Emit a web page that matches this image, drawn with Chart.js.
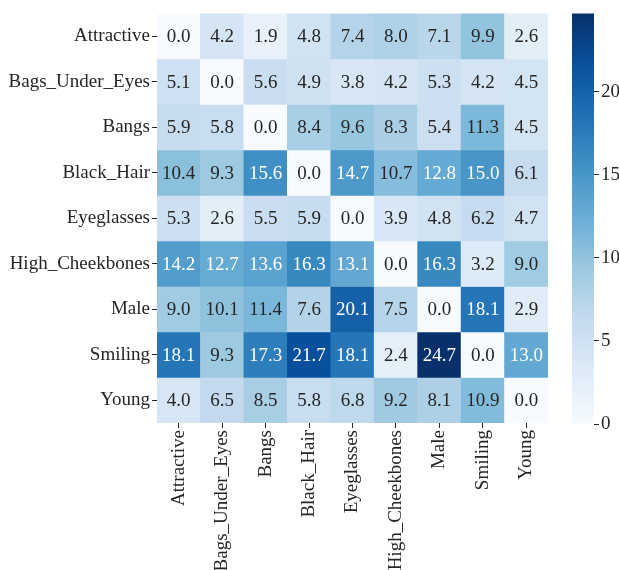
<!DOCTYPE html>
<html><head><meta charset="utf-8">
<script src="https://cdn.jsdelivr.net/npm/chart.js@4.4.0/dist/chart.umd.min.js"></script>
<style>body{margin:0;background:#fff}#wrap{position:relative;width:619px;height:570px}canvas{position:absolute;left:0;top:0}</style>
</head><body><div id="wrap"><canvas id="hm" width="619" height="570"></canvas><canvas id="cb" width="619" height="570"></canvas></div>
<script>
const rowLabels = ['Attractive','Bags_Under_Eyes','Bangs','Black_Hair','Eyeglasses','High_Cheekbones','Male','Smiling','Young'];
const colLabels = ['Attractive','Bags_Under_Eyes','Bangs','Black_Hair','Eyeglasses','High_Cheekbones','Male','Smiling','Young'];
const attractive     = [0.0, 4.2, 1.9, 4.8, 7.4, 8.0, 7.1, 9.9, 2.6];
const bagsUnderEyes  = [5.1, 0.0, 5.6, 4.9, 3.8, 4.2, 5.3, 4.2, 4.5];
const bangs          = [5.9, 5.8, 0.0, 8.4, 9.6, 8.3, 5.4, 11.3, 4.5];
const blackHair      = [10.4, 9.3, 15.6, 0.0, 14.7, 10.7, 12.8, 15.0, 6.1];
const eyeglasses     = [5.3, 2.6, 5.5, 5.9, 0.0, 3.9, 4.8, 6.2, 4.7];
const highCheekbones = [14.2, 12.7, 13.6, 16.3, 13.1, 0.0, 16.3, 3.2, 9.0];
const male           = [9.0, 10.1, 11.4, 7.6, 20.1, 7.5, 0.0, 18.1, 2.9];
const smiling        = [18.1, 9.3, 17.3, 21.7, 18.1, 2.4, 24.7, 0.0, 13.0];
const young          = [4.0, 6.5, 8.5, 5.8, 6.8, 9.2, 8.1, 10.9, 0.0];
const rows = [attractive, bagsUnderEyes, bangs, blackHair, eyeglasses, highCheekbones, male, smiling, young];
const colorbarTicks = [0, 5, 10, 15, 20];
const vmin = 0, vmax = 24.7;

const FONT = {family: '"Liberation Serif", "Times New Roman", serif', size: 19};
const TXT = '#262626';
const blues = ['#f7fbff','#deebf7','#c6dbef','#9ecae1','#6baed6','#4292c6','#2171b5','#08519c','#08306b'];
function hex(h){return [1,3,5].map(i=>parseInt(h.substr(i,2),16));}
function cmap(v){
  let t = Math.max(0, Math.min(1, (v - vmin) / (vmax - vmin))) * (blues.length - 1);
  const i = Math.min(Math.floor(t), blues.length - 2), f = t - i;
  const a = hex(blues[i]), b = hex(blues[i+1]);
  return a.map((c,k)=>Math.round(c + (b[k]-c)*f));
}
function rgbStr(c){return 'rgb('+c.join(',')+')';}
function textColor(v){
  const c = cmap(v).map(x=>{x/=255;return x<=0.03928?x/12.92:Math.pow((x+0.055)/1.055,2.4);});
  const lum = 0.2126*c[0]+0.7152*c[1]+0.0722*c[2];
  return lum > 0.408 ? TXT : '#ffffff';
}

const datasets = rows.map((r, i) => ({
  label: rowLabels[i],
  data: r.map(() => 1),
  values: r,
  backgroundColor: r.map(v => rgbStr(cmap(v))),
  borderWidth: 0,
  barPercentage: 1,
  categoryPercentage: 1
}));

const annot = {
  id: 'annot',
  afterDatasetsDraw(chart) {
    const ctx = chart.ctx;
    ctx.save();
    ctx.font = FONT.size + 'px ' + FONT.family;
    ctx.textAlign = 'center';
    ctx.textBaseline = 'middle';
    chart.data.datasets.forEach((ds, di) => {
      chart.getDatasetMeta(di).data.forEach((el, j) => {
        const v = ds.values[j];
        ctx.fillStyle = textColor(v);
        ctx.fillText(v.toFixed(1), el.x, (el.y + el.base) / 2 + 1);
      });
    });
    ctx.restore();
  }
};

const tickGrid = {display: true, drawOnChartArea: false, drawTicks: true, tickLength: 5, offset: false, color: TXT, lineWidth: 1};

new Chart(document.getElementById('hm'), {
  type: 'bar',
  data: {labels: colLabels, datasets},
  options: {
    responsive: false, animation: false, devicePixelRatio: 1, events: [],
    layout: {padding: {left: 0, right: 71, top: 12, bottom: 0}},
    plugins: {legend: {display: false}, tooltip: {enabled: false}},
    scales: {
      x: {type: 'category', offset: true, stacked: true, grid: tickGrid, border: {display: false},
          ticks: {font: FONT, color: TXT, minRotation: 90, maxRotation: 90, autoSkip: false, padding: 2},
          afterFit(s){ s.height = 147; }},
      y: {type: 'linear', stacked: true, min: 0, max: 9, reverse: true, display: false},
      yl: {type: 'category', labels: rowLabels, position: 'left', offset: true, grid: tickGrid, border: {display: false},
           ticks: {font: FONT, color: TXT, autoSkip: false, padding: 2},
           afterFit(s){ s.width = 157; }}
    }
  },
  plugins: [annot]
});

new Chart(document.getElementById('cb'), {
  type: 'bar',
  data: {labels: [''], datasets: [{
    data: [[vmin, vmax]], borderWidth: 0, barPercentage: 1, categoryPercentage: 1,
    backgroundColor(context) {
      const ca = context.chart.chartArea;
      if (!ca) return blues[4];
      const g = context.chart.ctx.createLinearGradient(0, ca.bottom, 0, ca.top);
      blues.forEach((c, i) => g.addColorStop(i / (blues.length - 1), c));
      return g;
    }
  }]},
  options: {
    responsive: false, animation: false, devicePixelRatio: 1, events: [],
    layout: {padding: {left: 572, right: 0, top: 12, bottom: 146}},
    plugins: {legend: {display: false}, tooltip: {enabled: false}},
    scales: {
      x: {display: false},
      y: {min: vmin, max: vmax, position: 'right', grid: {display: true, drawOnChartArea: false, tickLength: 5, color: TXT},
          border: {display: false},
          ticks: {font: FONT, color: TXT, padding: 2},
          afterBuildTicks(s){ s.ticks = colorbarTicks.map(v => ({value: v})); },
          afterFit(s){ s.width = 25; }}
    }
  }
});
</script>
</body></html>
